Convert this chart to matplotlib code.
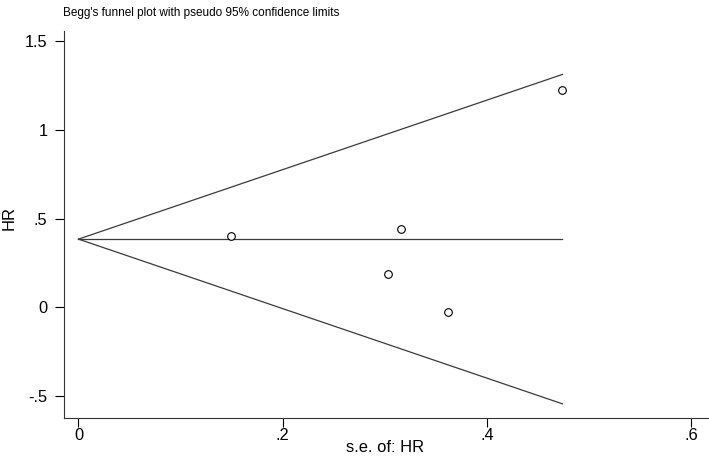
import matplotlib
matplotlib.use("Agg")
import matplotlib.pyplot as plt
import numpy as np

plt.rcParams['font.family'] = ['Liberation Sans', 'DejaVu Sans']

se = [0.149, 0.316, 0.303, 0.362, 0.474]
hr = [0.40, 0.44, 0.19, -0.025, 1.225]
pooled = 0.385
se_max = 0.474
xticks = [0, 0.2, 0.4, 0.6]
xticklabels = ["0", ".2", ".4", ".6"]
yticks = [-0.5, 0, 0.5, 1, 1.5]
yticklabels = ["-.5", "0", ".5", "1", "1.5"]

W, H = 709, 459
L, R, B, T = 64, 708, 418, 31
fig = plt.figure(figsize=(W/100, H/100), dpi=100)
ax = fig.add_axes([L/W, 1 - B/H, (R-L)/W, (B-T)/H])

xs = np.array([0, se_max])
lc = '#3a3a3a'
ax.plot(xs, pooled + 1.96*xs, color=lc, lw=0.9)
ax.plot(xs, pooled - 1.96*xs, color=lc, lw=0.9)
ax.plot(xs, [pooled, pooled], color=lc, lw=0.9)
ax.plot(se, hr, 'o', mfc='white', mec='black', ms=5.5, mew=0.8, linestyle='none')

ax.set_xlim(-0.0142, 0.6166)
ax.set_ylim(-0.624, 1.559)
ax.set_xticks(xticks)
ax.set_xticklabels(xticklabels)
ax.set_yticks(yticks)
ax.set_yticklabels(yticklabels)
ax.tick_params(direction='out', length=6.8, width=0.8, labelsize=11.8, colors='black')
ax.tick_params(axis='x', pad=0.3)
ax.tick_params(axis='y', pad=5.0)
for s in ['top', 'right']:
    ax.spines[s].set_visible(False)
for s in ['left', 'bottom']:
    ax.spines[s].set_linewidth(0.8)
    ax.spines[s].set_color('#333333')

fig.text(385/W, 1 - 447/H, "s.e. of: HR", fontsize=11.9, ha='center', va='center')
fig.text(9/W, 1 - 218/H, "HR", fontsize=11.9, ha='center', va='center', rotation=90)
fig.text(63/W, 1 - 13/H, "Begg's funnel plot with pseudo 95% confidence limits",
         fontsize=8.5, va='center', ha='left')

fig.savefig("out.png", dpi=100)
